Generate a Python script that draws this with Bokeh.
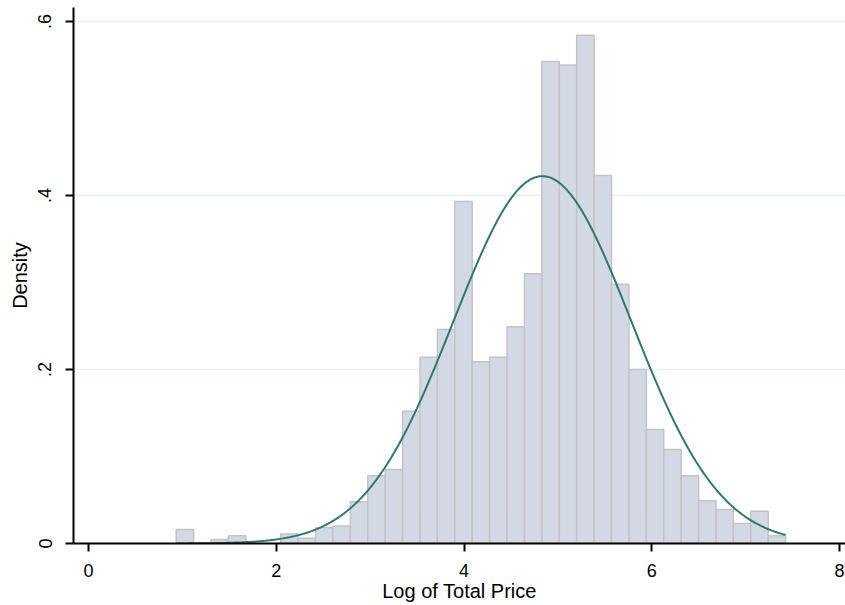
import numpy as np
from bokeh.plotting import figure
from bokeh.models import Range1d, FixedTicker
from bokeh.embed import file_html
from bokeh.resources import INLINE

# Histogram of log total price (35 bins)
bin_start = 0.934
bin_width = 0.1855
density = [0.016, 0.0, 0.0046, 0.009, 0.0, 0.0, 0.011, 0.006, 0.018, 0.020,
           0.048, 0.078, 0.085, 0.152, 0.214, 0.246, 0.393, 0.209, 0.214, 0.249,
           0.310, 0.554, 0.550, 0.584, 0.423, 0.298, 0.200, 0.131, 0.108, 0.078,
           0.049, 0.039, 0.023, 0.037, 0.009]
# Normal density overlay parameters
norm_mean = 4.835
norm_sd = 0.945

x_ticks = [0, 2, 4, 6, 8]
y_ticks = [0, 0.2, 0.4, 0.6]
y_tick_labels = ["0", ".2", ".4", ".6"]

n = len(density)
lefts = bin_start + bin_width * np.arange(n)
rights = lefts + bin_width
bin_end = bin_start + bin_width * n

xs = np.linspace(bin_start, bin_end, 400)
ys = np.exp(-0.5 * ((xs - norm_mean) / norm_sd) ** 2) / (norm_sd * np.sqrt(2 * np.pi))

FONT = "Liberation Sans"

p = figure(width=845, height=605, output_backend="svg", toolbar_location=None,
           x_range=Range1d(-0.16, 8.064), y_range=Range1d(0, 0.616),
           min_border_left=73, min_border_right=0, min_border_top=7, min_border_bottom=62)
p.outline_line_color = None
p.background_fill_color = "white"
p.border_fill_color = "white"

p.quad(left=lefts, right=rights, bottom=0, top=density,
       fill_color="#d2d8e4", line_color="#c4c4c4", line_width=1.5)
p.line(xs, ys, line_color="#2b7a70", line_width=2)

# grids
p.xgrid.visible = False
p.ygrid.ticker = FixedTicker(ticks=[0.2, 0.4, 0.6])
p.ygrid.grid_line_color = "#e8f0f2"
p.ygrid.grid_line_width = 1.5

for ax in (p.xaxis[0], p.yaxis[0]):
    ax.axis_line_color = "black"
    ax.axis_line_width = 2
    ax.major_tick_line_color = "black"
    ax.major_tick_line_width = 2
    ax.major_tick_out = 8
    ax.major_tick_in = 0
    ax.minor_tick_line_color = None
    ax.major_label_text_font = FONT
    ax.major_label_text_font_size = "18px"
    ax.major_label_text_color = "black"
    ax.axis_label_text_font = FONT
    ax.axis_label_text_font_size = "20px"
    ax.axis_label_text_font_style = "normal"
    ax.axis_label_text_color = "black"

p.xaxis.ticker = FixedTicker(ticks=x_ticks)
p.xaxis.axis_label = "Log of Total Price"
p.xaxis.major_label_standoff = 12
p.xaxis.axis_label_standoff = 0

p.yaxis.ticker = FixedTicker(ticks=y_ticks)
p.yaxis.major_label_overrides = {t: l for t, l in zip(y_ticks, y_tick_labels)}
p.yaxis.major_label_orientation = "vertical"
p.yaxis.axis_label = "Density"
p.yaxis.major_label_standoff = 14
p.yaxis.axis_label_standoff = 5

open("out.html", "w").write(file_html(p, INLINE))
